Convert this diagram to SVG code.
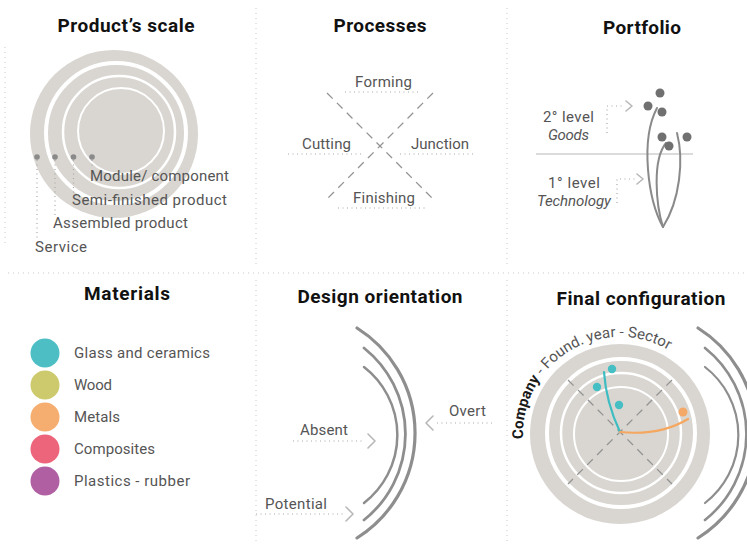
<svg xmlns="http://www.w3.org/2000/svg" width="747" height="545" viewBox="0 0 747 545">
  <style>
    .title { font-family: Roboto, "Liberation Sans", sans-serif; font-weight: bold; font-size: 19px; fill: #111; text-anchor: middle; }
    .lbl { font-family: Roboto, "Liberation Sans", sans-serif; font-size: 15px; fill: #555; }
    .it { font-style: italic; }
    .sep { stroke: #c8c8c8; stroke-width: 1; stroke-dasharray: 1 4; fill: none; }
    .dot-line { stroke: #a8a8a8; stroke-width: 1.2; stroke-dasharray: 1 3.5; fill: none; }
    .chev { stroke: #b8b8b8; stroke-width: 1.6; fill: none; stroke-linecap: round; stroke-linejoin: round; }
    .dash { stroke: #939393; stroke-width: 1.3; stroke-dasharray: 8 6; fill: none; }
    .disk { fill: #d9d6d1; }
    .ring { fill: none; stroke: #ffffff; }
    .arc { fill: none; stroke: #8e8e8e; stroke-linecap: round; }
    .stem { fill: none; stroke: #8a8a8a; stroke-width: 2; stroke-linecap: round; }
    .pdot { fill: #707070; }
  </style>
  <defs>
    <path id="nameArc" d="M523.1,439 A97,97 0 0 1 694.3,371.6"/>
  </defs>
  <rect width="747" height="545" fill="#ffffff"/>

  <!-- panel separators -->
  <g id="separators">
    <line class="sep" x1="256" y1="8" x2="256" y2="265"/>
    <line class="sep" x1="507" y1="8" x2="507" y2="265"/>
    <line class="sep" x1="8" y1="273" x2="745" y2="273"/>
    <line class="sep" x1="256" y1="280" x2="256" y2="545"/>
    <line class="sep" x1="507" y1="280" x2="507" y2="545"/>
    <line class="sep" x1="5" y1="47" x2="5" y2="247"/>
  </g>

  <!-- Product's scale -->
  <g id="product-scale">
    <text class="title" x="126" y="32" textLength="137">Product’s scale</text>
    <circle class="disk" cx="114" cy="134" r="84"/>
    <circle class="ring" cx="116" cy="133" r="70" stroke-width="4"/>
    <circle class="ring" cx="119" cy="132" r="56" stroke-width="2.5"/>
    <circle class="ring" cx="121" cy="131" r="43" stroke-width="2"/>
    <line class="dot-line" x1="37" y1="160" x2="37" y2="240"/>
    <line class="dot-line" x1="55" y1="160" x2="55" y2="216"/>
    <line class="dot-line" x1="73.5" y1="160" x2="73.5" y2="193"/>
    <line class="dot-line" x1="92" y1="160" x2="92" y2="168"/>
    <circle cx="37" cy="157" r="2.8" fill="#8a8a8a"/>
    <circle cx="55" cy="157" r="2.8" fill="#8a8a8a"/>
    <circle cx="73.5" cy="157" r="2.8" fill="#8a8a8a"/>
    <circle cx="92" cy="157" r="2.8" fill="#8a8a8a"/>
    <text class="lbl" x="90" y="181" textLength="139">Module/ component</text>
    <text class="lbl" x="72" y="205" textLength="155">Semi-finished product</text>
    <text class="lbl" x="53" y="228" textLength="135">Assembled product</text>
    <text class="lbl" x="35" y="252" textLength="52">Service</text>
  </g>

  <!-- Processes -->
  <g id="processes">
    <text class="title" x="380" y="32" textLength="93">Processes</text>
    <line class="dash" x1="327" y1="93" x2="433" y2="199"/>
    <line class="dash" x1="433" y1="93" x2="327" y2="199"/>
    <line class="dot-line" x1="345" y1="92" x2="419" y2="92"/>
    <line class="dot-line" x1="288" y1="154" x2="362" y2="154"/>
    <line class="dot-line" x1="400" y1="154" x2="473" y2="154"/>
    <line class="dot-line" x1="338" y1="208" x2="425" y2="208"/>
    <text class="lbl" x="355" y="87" textLength="57">Forming</text>
    <text class="lbl" x="302" y="149" textLength="49">Cutting</text>
    <text class="lbl" x="411" y="149" textLength="58">Junction</text>
    <text class="lbl" x="353" y="203" textLength="62">Finishing</text>
  </g>

  <!-- Portfolio -->
  <g id="portfolio">
    <text class="title" x="642" y="34" textLength="78">Portfolio</text>
    <line x1="536" y1="154" x2="693" y2="154" stroke="#cfcfcf" stroke-width="1.5"/>
    <path class="stem" d="M663,227 C648,200 640,140 657,108"/>
    <path class="stem" d="M663,227 C656,205 652,160 666,143"/>
    <path class="stem" d="M663,227 C680,200 684,160 677,133"/>
    <circle class="pdot" cx="660" cy="93" r="4.5"/>
    <circle class="pdot" cx="648" cy="106" r="4.5"/>
    <circle class="pdot" cx="662" cy="112" r="4.5"/>
    <circle class="pdot" cx="662" cy="137" r="4.5"/>
    <circle class="pdot" cx="669" cy="146" r="4.5"/>
    <circle class="pdot" cx="687" cy="137" r="4.5"/>
    <polyline class="dot-line" points="607,133 607,106 624,106"/>
    <polyline class="chev" points="626,101 632,106 626,111"/>
    <polyline class="dot-line" points="617,203 617,179 636,179"/>
    <polyline class="chev" points="637,174 643,179 637,184"/>
    <text class="lbl" x="543" y="122" textLength="51">2° level</text>
    <text class="lbl it" x="548" y="140" textLength="41">Goods</text>
    <text class="lbl" x="548" y="188" textLength="52">1° level</text>
    <text class="lbl it" x="537" y="206" textLength="74">Technology</text>
  </g>

  <!-- Materials -->
  <g id="materials">
    <text class="title" x="127" y="300" textLength="86">Materials</text>
    <circle cx="45" cy="353" r="14.5" fill="#4dbfc4"/>
    <circle cx="45" cy="385" r="14.5" fill="#cdca6e"/>
    <circle cx="45" cy="417" r="14.5" fill="#f5ae70"/>
    <circle cx="45" cy="449" r="14.5" fill="#ec657b"/>
    <circle cx="45" cy="481" r="14.5" fill="#b05fa3"/>
    <text class="lbl" x="74" y="358" textLength="136">Glass and ceramics</text>
    <text class="lbl" x="74" y="390" textLength="38">Wood</text>
    <text class="lbl" x="74" y="422" textLength="46">Metals</text>
    <text class="lbl" x="74" y="454" textLength="81">Composites</text>
    <text class="lbl" x="74" y="486" textLength="116">Plastics - rubber</text>
  </g>

  <!-- Design orientation -->
  <g id="design-orientation">
    <text class="title" x="380" y="303" textLength="165">Design orientation</text>
    <path class="arc" stroke-width="3.2" d="M357,328 A124,124 0 0 1 357,538"/>
    <path class="arc" stroke-width="2.8" d="M364,348 A110,110 0 0 1 364,520"/>
    <path class="arc" stroke-width="2.5" d="M364,367 A86,86 0 0 1 364,503"/>
    <line class="dot-line" x1="293" y1="441" x2="365" y2="441"/>
    <polyline class="chev" points="368,434 375,441 368,448"/>
    <line class="dot-line" x1="256" y1="514" x2="344" y2="514"/>
    <polyline class="chev" points="346,507 353,514 346,521"/>
    <line class="dot-line" x1="437" y1="423" x2="495" y2="423"/>
    <polyline class="chev" points="433,416 426,423 433,430"/>
    <text class="lbl" x="300" y="435" textLength="48">Absent</text>
    <text class="lbl" x="265" y="509" textLength="62">Potential</text>
    <text class="lbl" x="449" y="416" textLength="37">Overt</text>
  </g>

  <!-- Final configuration -->
  <g id="final-configuration">
    <text class="title" x="641" y="305" textLength="169">Final configuration</text>
    <circle class="disk" cx="620" cy="434" r="90"/>
    <circle class="ring" cx="621" cy="433" r="74" stroke-width="4"/>
    <circle class="ring" cx="621" cy="433" r="60" stroke-width="2.5"/>
    <circle class="ring" cx="621" cy="434" r="47" stroke-width="2"/>
    <line class="dash" x1="568" y1="380" x2="672" y2="484"/>
    <line class="dash" x1="672" y1="380" x2="568" y2="484"/>
    <path d="M620,432 Q606,402 604,372" fill="none" stroke="#3dbcc2" stroke-width="2.2" stroke-linecap="round"/>
    <path d="M620,432 Q660,436 688,419" fill="none" stroke="#f5a760" stroke-width="2.2" stroke-linecap="round"/>
    <circle cx="612" cy="369" r="4.2" fill="#45bfc4"/>
    <circle cx="597" cy="387" r="4.2" fill="#45bfc4"/>
    <circle cx="619" cy="405" r="4.2" fill="#45bfc4"/>
    <circle cx="683" cy="412" r="4.5" fill="#f5a968"/>
    <path class="arc" stroke="#7a7a7a" stroke-width="3.2" d="M698,328 A124,124 0 0 1 698,538"/>
    <path class="arc" stroke="#c9c9c9" stroke-width="2.6" d="M705,348 A110,110 0 0 1 705,520"/>
    <path class="arc" stroke="#d2d2d2" stroke-width="2.2" d="M705,367 A86,86 0 0 1 705,503"/>
    <text class="lbl" font-size="14"><textPath href="#nameArc"><tspan font-weight="bold" font-size="15" fill="#1a1a1a">Company</tspan> - Found. year - Sector</textPath></text>
  </g>
</svg>
